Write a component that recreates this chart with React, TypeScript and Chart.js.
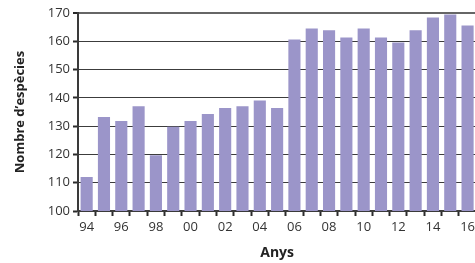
import React, { useEffect, useRef } from "react";
import { Chart, registerables } from "chart.js";

Chart.register(...registerables);

const years = ["94", "95", "96", "97", "98", "99", "00", "01", "02", "03", "04", "05", "06", "07", "08", "09", "10", "11", "12", "13", "14", "15", "16"];
const species = [112, 133.2, 131.8, 137, 119.7, 129.8, 131.8, 134.3, 136.4, 137, 139.1, 136.4, 160.6, 164.5, 163.9, 161.3, 164.5, 161.3, 159.6, 163.9, 168.4, 169.5, 165.6];
const yMin = 100;
const yMax = 170;
const yStep = 10;
const yTitle = "Nombre d’espècies";
const xTitle = "Anys";

export default function App() {
  const ref = useRef<HTMLCanvasElement | null>(null);

  useEffect(() => {
    if (!ref.current) return;
    const font = "'Open Sans', 'DejaVu Sans', sans-serif";
    const chart = new Chart(ref.current, {
      type: "bar",
      data: {
        labels: years,
        datasets: [
          {
            data: species,
            backgroundColor: "#9b95c9",
            borderWidth: 0,
            barPercentage: 0.7,
            categoryPercentage: 1,
          },
        ],
      },
      options: {
        responsive: false,
        animation: false,
        devicePixelRatio: 1,
        layout: { padding: { top: 13, right: 0, left: 0, bottom: 0 } },
        plugins: { legend: { display: false }, tooltip: { enabled: false } },
        scales: {
          x: {
            z: 1,
            offset: true,
            grid: {
              offset: true,
              drawOnChartArea: false,
              drawTicks: true,
              tickLength: 5,
              tickColor: "#2a2a2a",
              tickWidth: 2,
            },
            border: { display: true, color: "#3a3a3a", width: 2 },
            ticks: {
              autoSkip: false,
              maxRotation: 0,
              minRotation: 0,
              padding: 3,
              color: "#333",
              font: { family: font, size: 13 },
              callback: (_v: any, i: number) => (i % 2 === 0 ? years[i] : ""),
            },
            title: {
              display: true,
              text: xTitle,
              color: "#222",
              font: { family: font, size: 14, weight: "bold" },
              padding: { top: 2, bottom: 2 },
            },
            afterFit: (s: any) => {
              s.height = 52;
            },
          },
          y: {
            z: 1,
            min: yMin,
            max: yMax,
            grid: {
              drawTicks: true,
              tickLength: 5,
              tickColor: "#2a2a2a",
              tickWidth: 2,
              color: (c: any) => (c.tick && c.tick.value === yMax ? "#666" : "#3c3c3c"),
              lineWidth: (c: any) => (c.tick && c.tick.value === yMax ? 2 : 1),
            },
            border: { display: true, color: "#3a3a3a", width: 2 },
            ticks: {
              stepSize: yStep,
              padding: 3,
              color: "#333",
              font: { family: font, size: 13 },
            },
            title: {
              display: true,
              text: yTitle,
              color: "#222",
              font: { family: font, size: 13, weight: "bold" },
              padding: { top: 12, bottom: 0 },
            },
            afterFit: (s: any) => {
              s.width = 78;
            },
          },
        },
      },
    });
    return () => chart.destroy();
  }, []);

  return (
    <div style={{ position: "fixed", left: 0, top: 0, width: 475, height: 263, overflow: "hidden", background: "#fff" }}>
      <canvas ref={ref} width={478} height={263} style={{ display: "block" }} />
    </div>
  );
}
